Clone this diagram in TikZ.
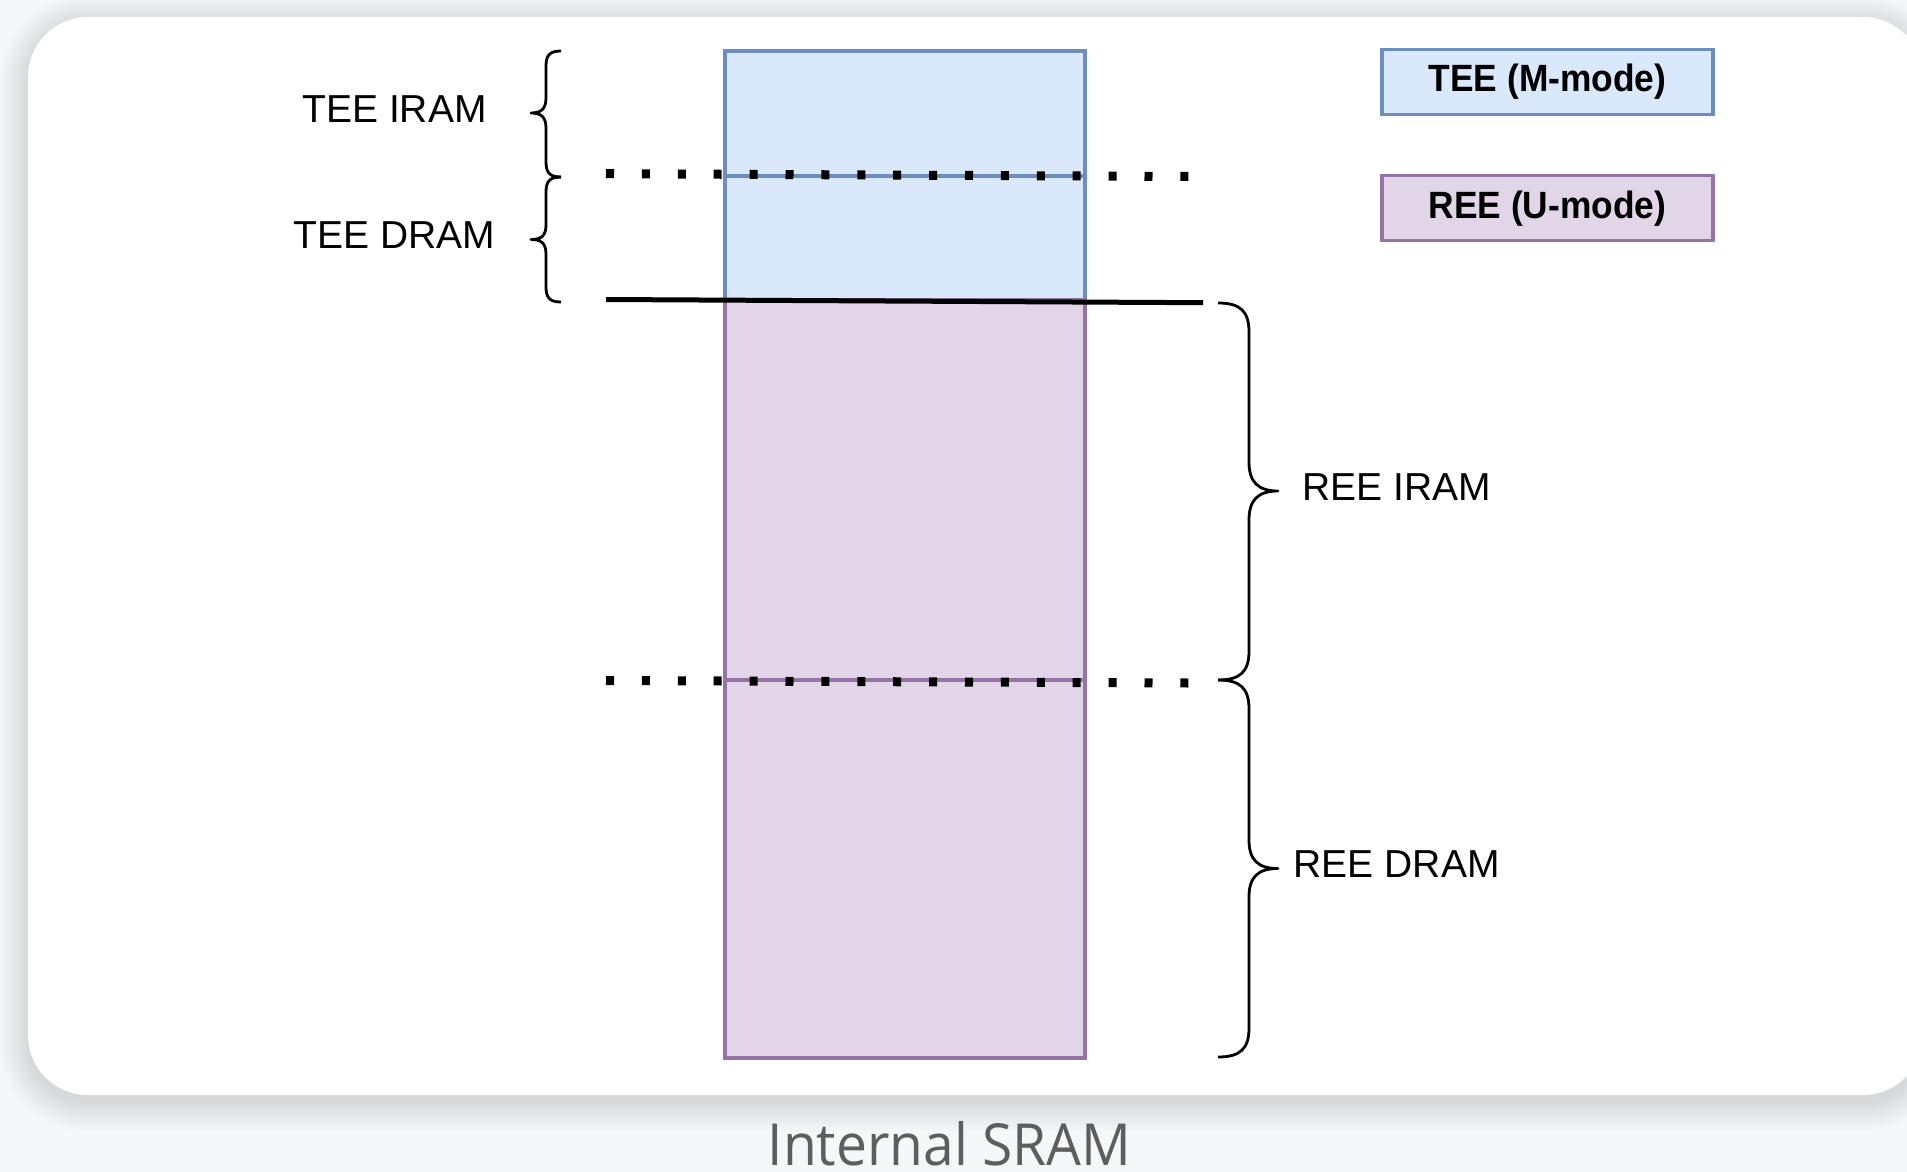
\documentclass[tikz,border=0pt]{standalone}
\usepackage{fontspec}
\setmainfont{Liberation Sans}
\newfontfamily\legendfont{Liberation Sans}[FakeStretch=0.93]
\newfontfamily\captionfont{Open Sans}[FakeStretch=0.95]
\definecolor{pagebg}{HTML}{F6F7F8}
\definecolor{teefill}{HTML}{DAE8FC}
\definecolor{teeline}{HTML}{6C8EBF}
\definecolor{reefill}{HTML}{E1D5E7}
\definecolor{reeline}{HTML}{9673A6}
\definecolor{captiongray}{HTML}{5E5E5E}
\tikzset{
  label/.style={anchor=base, inner sep=0pt, font=\fontsize{39}{47}\selectfont},
  legendbox/.style={draw, line width=3.2, minimum width=331, minimum height=65,
    inner sep=0pt, font=\legendfont\bfseries\fontsize{38}{46}\selectfont},
  dotline/.style={line width=9, dash pattern=on 8 off 27.9, line cap=butt},
  bracestroke/.style={line width=2.8, line join=round},
  colborder/.style={line width=3.2},
}
\begin{document}
\begin{tikzpicture}[x=1pt, y=-1pt]
\useasboundingbox (0,0) rectangle (1907,1172);
% page background
\fill[pagebg] (0,0) rectangle (1907,1172);
% soft shadow under the card
\foreach \i in {1,...,30} {
  \fill[black, fill opacity=0.0045, rounded corners=60+\i]
    (28-\i, 17-\i+7) rectangle (1923+\i, 1095+\i+7);
}
% card
\fill[white, rounded corners=60] (28,17) rectangle (1923,1095);

% memory column: TEE part on top, REE part below
\fill[teefill] (725,51) rectangle (1085,300);
\fill[reefill] (725,300) rectangle (1085,1058);
\draw[teeline, colborder] (725,300) -- (725,51) -- (1085,51) -- (1085,300);
\draw[teeline, colborder] (725,176) -- (1085,176);
\draw[reeline, colborder] (725,300) rectangle (1085,1058);
\draw[reeline, colborder] (725,680) -- (1085,680);

% boundaries
\coordinate (d1l) at (606,173.7);
\coordinate (d1r) at (1188.4,176.5);
\coordinate (d2l) at (606,680.5);
\coordinate (d2r) at (1188.4,683);
\coordinate (sl) at (606,299.5);
\coordinate (sr) at (1203,302.7);
\draw[dotline] (d1l) -- (d1r);
\draw[dotline] (d2l) -- (d2r);
\draw[line width=5] (sl) -- (sr);

% left braces
\draw[bracestroke] (561,51) .. controls (550,51) and (546,55) .. (546,66)
  -- (546,98) .. controls (546,109) and (541,113) .. (531,113)
  .. controls (541,113) and (546,117) .. (546,128)
  -- (546,162) .. controls (546,173) and (550,177) .. (561,177);
\draw[bracestroke] (561,177) .. controls (550,177) and (546,181) .. (546,192)
  -- (546,225) .. controls (546,236) and (541,239.5) .. (531,239.5)
  .. controls (541,239.5) and (546,243) .. (546,254)
  -- (546,287) .. controls (546,298) and (550,302) .. (561,302);

% right braces
\draw[bracestroke] (1218,303) .. controls (1240,303) and (1249,311) .. (1249,332)
  -- (1249,462) .. controls (1249,482) and (1258,491) .. (1278,491)
  .. controls (1258,491) and (1249,500) .. (1249,520)
  -- (1249,651) .. controls (1249,672) and (1240,680) .. (1218,680);
\draw[bracestroke] (1218,680) .. controls (1240,680) and (1249,688) .. (1249,709)
  -- (1249,840) .. controls (1249,860) and (1258,868.5) .. (1278,868.5)
  .. controls (1258,868.5) and (1249,877) .. (1249,897)
  -- (1249,1028) .. controls (1249,1049) and (1240,1057) .. (1218,1057);

% region labels
\node[label] (teeiram) at (394.5,122.7) {TEE IRAM};
\node[label] (teedram) at (394.6,248.3) {TEE DRAM};
\node[label] (reeiram) at (1397,500) {REE IRAM};
\node[label] (reedram) at (1396.7,877.8) {REE DRAM};

% legend
\node[legendbox, draw=teeline, fill=teefill] (legtee) at (1547.5,81.7) {TEE (M-mode)};
\node[legendbox, draw=reeline, fill=reefill] (legree) at (1547.5,208.3) {REE (U-mode)};

% caption
\node[anchor=base, inner sep=0pt, text=captiongray,
  font=\captionfont\fontsize{58}{70}\selectfont] (caption) at (949.5,1165) {Internal SRAM};
\end{tikzpicture}
\end{document}
